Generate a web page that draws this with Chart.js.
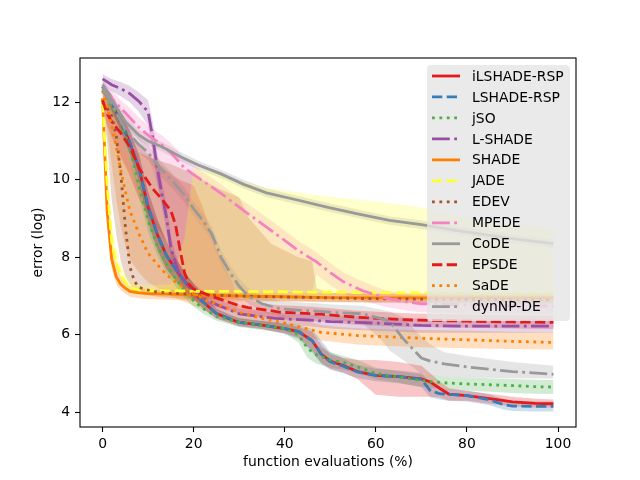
<!DOCTYPE html>
<html>
<head>
<meta charset="utf-8">
<script src="https://cdn.jsdelivr.net/npm/chart.js@4.4.0/dist/chart.umd.min.js"></script>
<style>
    html, body { margin: 0; padding: 0; background: #fff; }
</style>
</head>
<body>
<canvas id="grafico" width="640" height="480"></canvas>
<script>
// tick labels
const xTickValues = [0, 20, 40, 60, 80, 100];
const yTickValues = [4, 6, 8, 10, 12];

// algorithm names, in plotting order
const algoritmos = ['iLSHADE-RSP', 'LSHADE-RSP', 'jSO', 'L-SHADE', 'SHADE', 'JADE', 'EDEV', 'MPEDE', 'CoDE', 'EPSDE', 'SaDE', 'dynNP-DE'];

// iLSHADE-RSP
const ilX    = [0, 2, 4, 6, 8, 10, 12, 14, 16, 18, 20, 22, 24, 25, 26, 28, 30, 35, 40, 43, 46, 48, 50, 53, 56, 60, 65, 70, 72, 74, 76, 80, 85, 90, 95, 99];
const ilMean = [12.4, 12.0, 11.5, 10.95, 10.3, 9.3, 8.6, 8.05, 7.7, 7.38, 7.12, 6.85, 6.65, 6.55, 6.5, 6.4, 6.32, 6.25, 6.16, 6.08, 5.85, 5.5, 5.32, 5.2, 5.05, 4.95, 4.92, 4.86, 4.78, 4.62, 4.47, 4.43, 4.35, 4.27, 4.23, 4.22];
const ilLo   = [12.25, 11.8, 11.25, 10.65, 9.95, 8.9, 8.2, 7.7, 7.4, 7.15, 6.92, 6.68, 6.5, 6.42, 6.38, 6.3, 6.22, 6.15, 6.04, 5.92, 5.6, 5.28, 5.12, 5.02, 4.85, 4.45, 4.4, 4.4, 4.4, 4.38, 4.3, 4.3, 4.22, 4.15, 4.12, 4.12];
const ilHi   = [12.5, 12.2, 11.75, 11.25, 10.65, 9.7, 9.0, 8.4, 8.0, 7.62, 7.32, 7.02, 6.8, 6.68, 6.62, 6.5, 6.42, 6.35, 6.27, 6.2, 6.08, 5.75, 5.5, 5.4, 5.35, 5.35, 5.3, 5.2, 5.0, 4.8, 4.62, 4.55, 4.48, 4.4, 4.35, 4.33];

// LSHADE-RSP
const lrX    = [0, 2, 4, 6, 8, 10, 12, 14, 16, 18, 20, 22, 25, 30, 35, 40, 43, 46, 48, 50, 53, 56, 60, 65, 70, 72, 74, 76, 80, 85, 88, 90, 95, 99];
const lrMean = [12.4, 12.0, 11.5, 10.95, 10.3, 9.3, 8.6, 8.05, 7.7, 7.38, 7.12, 6.85, 6.55, 6.32, 6.25, 6.16, 6.08, 5.85, 5.5, 5.3, 5.18, 5.04, 4.95, 4.92, 4.85, 4.55, 4.48, 4.46, 4.43, 4.32, 4.2, 4.16, 4.15, 4.15];
const lrLo   = [12.25, 11.8, 11.25, 10.65, 9.95, 8.9, 8.2, 7.7, 7.4, 7.15, 6.92, 6.68, 6.42, 6.22, 6.15, 6.02, 5.9, 5.55, 5.25, 5.1, 5.0, 4.88, 4.8, 4.75, 4.65, 4.38, 4.33, 4.3, 4.28, 4.18, 4.07, 4.03, 4.02, 4.02];
const lrHi   = [12.5, 12.2, 11.75, 11.25, 10.65, 9.7, 9.0, 8.4, 8.0, 7.62, 7.32, 7.02, 6.68, 6.42, 6.35, 6.3, 6.25, 6.15, 5.85, 5.55, 5.38, 5.22, 5.12, 5.08, 5.02, 4.75, 4.62, 4.6, 4.56, 4.46, 4.34, 4.3, 4.28, 4.28];

// jSO
const jsoX    = [0, 2, 4, 6, 8, 10, 12, 14, 16, 18, 20, 22, 25, 30, 35, 40, 43, 45, 47, 50, 53, 56, 60, 64, 70, 75, 80, 85, 90, 95, 99];
const jsoMean = [12.3, 11.9, 11.5, 10.8, 9.85, 8.95, 8.3, 7.82, 7.45, 7.12, 6.88, 6.68, 6.48, 6.32, 6.24, 6.16, 6.0, 5.65, 5.48, 5.35, 5.28, 5.17, 5.0, 4.93, 4.82, 4.76, 4.73, 4.71, 4.69, 4.66, 4.65];
const jsoLo   = [12.15, 11.7, 11.25, 10.5, 9.55, 8.65, 8.05, 7.6, 7.25, 6.95, 6.72, 6.55, 6.36, 6.2, 6.12, 6.04, 5.8, 5.4, 5.25, 5.15, 5.1, 5.0, 4.85, 4.78, 4.65, 4.6, 4.56, 4.53, 4.5, 4.48, 4.47];
const jsoHi   = [12.45, 12.1, 11.75, 11.1, 10.15, 9.25, 8.55, 8.05, 7.65, 7.3, 7.05, 6.82, 6.6, 6.44, 6.36, 6.28, 6.2, 5.95, 5.72, 5.55, 5.45, 5.35, 5.15, 5.08, 4.98, 4.92, 4.9, 4.88, 4.86, 4.84, 4.83];

// L-SHADE
const lsX    = [0, 2, 4, 6, 8, 10, 11, 12, 13, 14, 15, 16, 17, 18, 20, 22, 25, 30, 38, 45, 50, 56, 60, 70, 80, 90, 99];
const lsMean = [12.6, 12.45, 12.35, 12.22, 12.02, 11.75, 11.1, 10.3, 9.65, 9.05, 8.25, 7.85, 7.55, 7.38, 7.15, 6.95, 6.78, 6.54, 6.42, 6.38, 6.34, 6.32, 6.3, 6.24, 6.22, 6.22, 6.22];
const lsLo   = [12.45, 12.28, 12.15, 12.0, 11.75, 11.4, 10.7, 9.9, 9.3, 8.7, 7.95, 7.6, 7.35, 7.2, 6.98, 6.8, 6.62, 6.4, 6.28, 6.22, 6.16, 6.12, 6.1, 6.05, 6.05, 6.05, 6.05];
const lsHi   = [12.72, 12.6, 12.52, 12.42, 12.25, 12.05, 11.5, 10.7, 10.0, 9.4, 8.55, 8.1, 7.78, 7.58, 7.32, 7.1, 6.95, 6.68, 6.56, 6.52, 6.5, 6.48, 6.46, 6.42, 6.4, 6.4, 6.4];

// SHADE
const shX    = [0, 1, 2, 3, 4, 5, 6, 8, 10, 15, 20, 30, 40, 50, 60, 70, 80, 90, 99];
const shMean = [12.1, 9.2, 7.95, 7.5, 7.3, 7.2, 7.12, 7.08, 7.06, 7.05, 7.03, 7.0, 6.98, 6.96, 6.95, 6.95, 6.95, 6.95, 6.95];
const shLo   = [12.0, 8.8, 7.7, 7.3, 7.15, 7.05, 6.98, 6.94, 6.92, 6.9, 6.88, 6.86, 6.85, 6.84, 6.83, 6.83, 6.83, 6.83, 6.83];
const shHi   = [12.2, 9.7, 8.4, 7.8, 7.5, 7.35, 7.25, 7.2, 7.18, 7.16, 7.14, 7.12, 7.1, 7.08, 7.07, 7.07, 7.07, 7.07, 7.07];

// JADE
const jaX    = [0, 1, 2, 3, 4, 5, 6, 8, 10, 15, 18, 20, 25, 30, 35, 40, 45, 50, 55, 60, 65, 70, 75, 80, 85, 90, 95, 99];
const jaMean = [12.0, 9.9, 8.4, 7.85, 7.55, 7.35, 7.22, 7.16, 7.14, 7.13, 7.13, 7.12, 7.12, 7.12, 7.11, 7.11, 7.1, 7.1, 7.09, 7.09, 7.08, 7.08, 7.07, 7.07, 7.06, 7.06, 7.05, 7.05];
const jaLo   = [11.9, 9.6, 8.2, 7.7, 7.42, 7.25, 7.12, 7.06, 7.04, 7.03, 7.03, 7.02, 7.02, 7.02, 7.01, 7.01, 7.0, 7.0, 6.99, 6.99, 6.98, 6.98, 6.97, 6.97, 6.96, 6.96, 6.95, 6.95];
const jaHi   = [12.1, 10.3, 8.9, 8.2, 7.8, 7.55, 7.4, 7.3, 7.28, 7.3, 8.5, 10.3, 10.18, 9.98, 9.82, 9.72, 9.64, 9.56, 9.5, 9.44, 9.37, 9.29, 9.15, 9.02, 8.92, 8.85, 8.8, 8.78];

// EDEV
const edX    = [0, 1, 2, 3, 4, 5, 6, 7, 8, 10, 12, 15, 19, 22, 25, 30, 32, 37, 43, 46, 47, 50, 60, 70, 80, 90, 99];
const edMean = [12.0, 11.85, 11.65, 11.15, 10.15, 8.8, 7.75, 7.38, 7.22, 7.15, 7.1, 7.07, 7.05, 7.03, 7.02, 7.0, 6.99, 6.98, 6.97, 6.96, 6.96, 6.95, 6.93, 6.92, 6.91, 6.9, 6.9];
const edLo   = [11.85, 11.0, 9.5, 8.6, 7.9, 7.5, 7.3, 7.15, 7.08, 7.02, 6.98, 6.95, 6.93, 6.92, 6.91, 6.9, 6.89, 6.88, 6.87, 6.86, 6.86, 6.85, 6.83, 6.82, 6.81, 6.8, 6.8];
const edHi   = [12.1, 12.0, 11.9, 11.7, 11.4, 11.1, 10.9, 10.8, 10.7, 10.6, 10.5, 10.4, 10.2, 10.0, 9.8, 9.55, 9.03, 8.35, 8.0, 7.9, 7.2, 7.08, 7.05, 7.04, 7.03, 7.02, 7.02];

// MPEDE
const mpX    = [0, 2, 4, 6, 8, 10, 13, 15, 18, 22, 26, 29, 31, 34, 39, 43, 46, 47, 50, 53, 57, 62, 67, 70, 80, 90, 99];
const mpMean = [12.35, 12.1, 11.85, 11.6, 11.35, 11.15, 10.9, 10.7, 10.3, 9.97, 9.65, 9.38, 9.2, 8.95, 8.52, 8.17, 7.95, 7.88, 7.6, 7.36, 7.14, 6.95, 6.84, 6.8, 6.77, 6.75, 6.74];
const mpLo   = [12.2, 11.85, 11.55, 11.3, 11.0, 10.6, 9.5, 8.0, 7.2, 7.12, 7.12, 7.12, 7.12, 7.12, 7.12, 7.12, 7.12, 7.55, 7.28, 7.05, 6.88, 6.72, 6.62, 6.58, 6.55, 6.54, 6.53];
const mpHi   = [12.5, 12.3, 12.05, 11.85, 11.6, 11.4, 11.15, 10.95, 10.55, 10.2, 9.88, 9.62, 9.45, 9.2, 8.78, 8.42, 8.2, 8.12, 7.85, 7.6, 7.38, 7.15, 7.02, 6.98, 6.95, 6.93, 6.92];

// CoDE
const coX    = [0, 2, 5, 8, 10, 13, 17, 21, 26, 31, 36, 43, 49, 56, 63, 70, 80, 90, 99];
const coMean = [12.45, 12.05, 11.5, 11.15, 11.0, 10.85, 10.6, 10.38, 10.15, 9.88, 9.66, 9.47, 9.3, 9.12, 8.95, 8.84, 8.65, 8.48, 8.35];
const coLo   = [12.3, 11.9, 11.35, 11.02, 10.88, 10.73, 10.48, 10.27, 10.04, 9.77, 9.55, 9.36, 9.19, 9.01, 8.84, 8.73, 8.54, 8.37, 8.24];
const coHi   = [12.6, 12.2, 11.65, 11.28, 11.12, 10.97, 10.72, 10.49, 10.26, 9.99, 9.77, 9.58, 9.41, 9.23, 9.06, 8.95, 8.76, 8.59, 8.46];

// EPSDE
const epX    = [0, 1, 2, 4, 6, 8, 11, 13, 15, 16, 17, 18, 19, 20, 22, 25, 30, 32, 37, 39, 43, 46, 47, 48, 56, 68, 80, 90, 99];
const epMean = [12.05, 11.7, 11.5, 11.2, 10.85, 10.3, 9.77, 9.5, 9.2, 8.85, 8.2, 7.6, 7.3, 7.18, 7.08, 6.95, 6.75, 6.7, 6.62, 6.58, 6.56, 6.54, 6.53, 6.53, 6.45, 6.38, 6.35, 6.33, 6.32];
const epLo   = [11.9, 11.4, 11.1, 10.6, 10.1, 9.5, 8.9, 8.6, 8.2, 7.8, 7.4, 7.1, 6.95, 6.88, 6.8, 6.7, 6.55, 6.5, 6.43, 6.4, 6.37, 6.35, 6.34, 6.34, 6.25, 6.2, 6.18, 6.16, 6.15];
const epHi   = [12.2, 12.0, 11.85, 11.6, 11.3, 10.85, 10.55, 10.35, 10.15, 10.05, 10.0, 9.95, 9.9, 9.85, 9.3, 8.2, 6.95, 6.88, 6.78, 6.76, 6.74, 6.72, 6.71, 6.7, 6.62, 6.55, 6.52, 6.5, 6.5];

// SaDE
const saX    = [0, 1, 2, 3, 4, 5, 6, 8, 10, 13, 15, 18, 20, 23, 26, 30, 35, 40, 45, 48, 52, 56, 60, 70, 80, 90, 99];
const saMean = [12.3, 11.9, 11.4, 10.85, 10.25, 9.7, 9.2, 8.6, 8.1, 7.68, 7.45, 7.2, 7.06, 6.88, 6.75, 6.58, 6.42, 6.3, 6.15, 6.06, 6.02, 5.98, 5.96, 5.91, 5.87, 5.83, 5.8];
const saLo   = [12.1, 11.3, 10.4, 9.5, 8.8, 8.3, 7.95, 7.6, 7.35, 7.15, 7.0, 6.85, 6.75, 6.6, 6.5, 6.35, 6.2, 6.1, 5.95, 5.85, 5.8, 5.75, 5.72, 5.68, 5.65, 5.63, 5.62];
const saHi   = [12.4, 12.2, 12.0, 11.7, 11.3, 10.9, 10.5, 9.9, 9.4, 8.7, 8.2, 7.6, 7.3, 7.1, 6.95, 6.78, 6.62, 6.5, 6.35, 6.25, 6.2, 6.17, 6.15, 6.12, 6.1, 6.08, 6.06];

// dynNP-DE
const dyX    = [0, 2, 5, 8, 10, 13, 16, 18, 20, 22, 24, 26, 28, 30, 32, 35, 39, 45, 47, 50, 57, 61, 63, 66, 70, 72, 75, 80, 90, 99];
const dyMean = [12.35, 11.95, 11.3, 10.9, 10.7, 10.25, 9.88, 9.6, 9.25, 8.95, 8.6, 8.0, 7.6, 7.25, 7.0, 6.8, 6.67, 6.62, 6.61, 6.58, 6.54, 6.42, 6.35, 5.9, 5.4, 5.32, 5.25, 5.17, 5.05, 4.98];
const dyLo   = [12.2, 11.75, 11.1, 10.7, 10.5, 10.05, 9.68, 9.4, 9.05, 8.75, 8.4, 7.8, 7.4, 7.05, 6.8, 6.6, 6.47, 6.42, 6.41, 6.38, 6.3, 5.9, 5.6, 5.35, 5.0, 4.95, 4.92, 4.9, 4.88, 4.87];
const dyHi   = [12.5, 12.15, 11.5, 11.1, 10.9, 10.45, 10.08, 9.8, 9.45, 9.15, 8.8, 8.2, 7.8, 7.45, 7.2, 7.0, 6.87, 6.82, 6.81, 6.78, 6.75, 6.65, 6.6, 6.45, 5.95, 5.75, 5.55, 5.45, 5.3, 5.2];

const series = [
    [ilX, ilMean, ilLo, ilHi],
    [lrX, lrMean, lrLo, lrHi],
    [jsoX, jsoMean, jsoLo, jsoHi],
    [lsX, lsMean, lsLo, lsHi],
    [shX, shMean, shLo, shHi],
    [jaX, jaMean, jaLo, jaHi],
    [edX, edMean, edLo, edHi],
    [mpX, mpMean, mpLo, mpHi],
    [coX, coMean, coLo, coHi],
    [epX, epMean, epLo, epHi],
    [saX, saMean, saLo, saHi],
    [dyX, dyMean, dyLo, dyHi]
];

const cores = ['228,26,28', '55,126,184', '77,175,74', '152,78,163', '255,127,0', '255,255,51',
               '166,86,40', '247,129,191', '153,153,153', '228,26,28', '255,127,0', '153,153,153'];

// matplotlib dash patterns for lw = 2pt, in px
const DASHED = [10.3, 4.4];
const DOTTED = [2.8, 4.6];
const DASHDOT = [17.8, 4.4, 2.8, 4.4];
const tracos = [[], DASHED, DOTTED, DASHDOT, [], DASHED, DOTTED, DASHDOT, [], DASHED, DOTTED, DASHDOT];

const LW = 2.8;
const FONTE = 'DejaVu Sans';

function pontos(xs, ys) {
    return xs.map((x, i) => ({ x: x, y: ys[i] }));
}

const datasets = [];
series.forEach((s, i) => {
    const loIdx = datasets.length;
    datasets.push({
        label: algoritmos[i] + ' lo',
        data: pontos(s[0], s[2]),
        borderWidth: 0,
        borderColor: 'rgba(0,0,0,0)',
        pointRadius: 0,
        fill: false,
        order: 200
    });
    datasets.push({
        label: algoritmos[i] + ' hi',
        data: pontos(s[0], s[3]),
        borderWidth: 0,
        borderColor: 'rgba(0,0,0,0)',
        backgroundColor: 'rgba(' + cores[i] + ',0.25)',
        pointRadius: 0,
        fill: { target: loIdx },
        order: 200
    });
});
series.forEach((s, i) => {
    datasets.push({
        label: algoritmos[i],
        data: pontos(s[0], s[1]),
        borderColor: 'rgb(' + cores[i] + ')',
        borderWidth: LW,
        borderDash: tracos[i],
        pointRadius: 0,
        fill: false,
        tension: 0,
        order: 20 - i
    });
});

// frame + legend box like matplotlib
const molduraLegenda = {
    id: 'molduraLegenda',
    afterDatasetsDraw(chart) {
        const { ctx, chartArea: a } = chart;
        ctx.save();
        ctx.strokeStyle = '#000';
        ctx.lineWidth = 1.1;
        ctx.strokeRect(a.left, a.top, a.right - a.left, a.bottom - a.top);

        const bx = 427, by = 65, bw = 143, bh = 256, r = 4;
        ctx.beginPath();
        ctx.moveTo(bx + r, by);
        ctx.arcTo(bx + bw, by, bx + bw, by + bh, r);
        ctx.arcTo(bx + bw, by + bh, bx, by + bh, r);
        ctx.arcTo(bx, by + bh, bx, by, r);
        ctx.arcTo(bx, by, bx + bw, by, r);
        ctx.closePath();
        ctx.fillStyle = 'rgba(229,229,229,0.8)';
        ctx.fill();

        ctx.font = '13.9px "' + FONTE + '"';
        ctx.textBaseline = 'middle';
        ctx.textAlign = 'left';
        algoritmos.forEach((nome, i) => {
            const y = 76 + i * 20.97;
            ctx.beginPath();
            ctx.setLineDash(tracos[i]);
            ctx.lineWidth = LW;
            ctx.strokeStyle = 'rgb(' + cores[i] + ')';
            ctx.moveTo(432, y);
            ctx.lineTo(460, y);
            ctx.stroke();
            ctx.setLineDash([]);
            ctx.fillStyle = '#000';
            ctx.fillText(nome, 472, y + 1);
        });
        ctx.restore();
    }
};

const ctx = document.getElementById('grafico').getContext('2d');
new Chart(ctx, {
    type: 'line',
    data: { datasets: datasets },
    options: {
        responsive: false,
        animation: false,
        devicePixelRatio: 1,
        layout: { padding: { top: 58, right: 64, bottom: 0, left: 0 } },
        plugins: {
            legend: { display: false },
            tooltip: { enabled: false },
            filler: { drawTime: 'beforeDatasetsDraw', propagate: false }
        },
        scales: {
            x: {
                type: 'linear',
                min: -4.95,
                max: 103.95,
                afterBuildTicks: function (scale) {
                    scale.ticks = xTickValues.map(v => ({ value: v }));
                },
                afterFit: function (scale) { scale.height = 53; },
                border: { display: false },
                grid: { display: true, drawOnChartArea: false, drawTicks: true, tickLength: 5, tickColor: '#000', tickWidth: 1.1 },
                ticks: { color: '#000', padding: 4, maxRotation: 0, font: { family: FONTE, size: 13.9 } },
                title: {
                    display: true,
                    text: 'function evaluations (%)',
                    color: '#000',
                    font: { family: FONTE, size: 13.9 },
                    padding: { top: 0, bottom: 9 }
                }
            },
            y: {
                type: 'linear',
                min: 3.62,
                max: 13.14,
                afterBuildTicks: function (scale) {
                    scale.ticks = yTickValues.map(v => ({ value: v }));
                },
                afterFit: function (scale) { scale.width = 80; },
                border: { display: false },
                grid: { display: true, drawOnChartArea: false, drawTicks: true, tickLength: 5, tickColor: '#000', tickWidth: 1.1 },
                ticks: { color: '#000', padding: 5, font: { family: FONTE, size: 13.9 } },
                title: {
                    display: true,
                    text: 'error (log)',
                    color: '#000',
                    font: { family: FONTE, size: 13.9 },
                    padding: { top: 30, bottom: 0 }
                }
            }
        }
    },
    plugins: [molduraLegenda]
});
</script>
</body>
</html>
